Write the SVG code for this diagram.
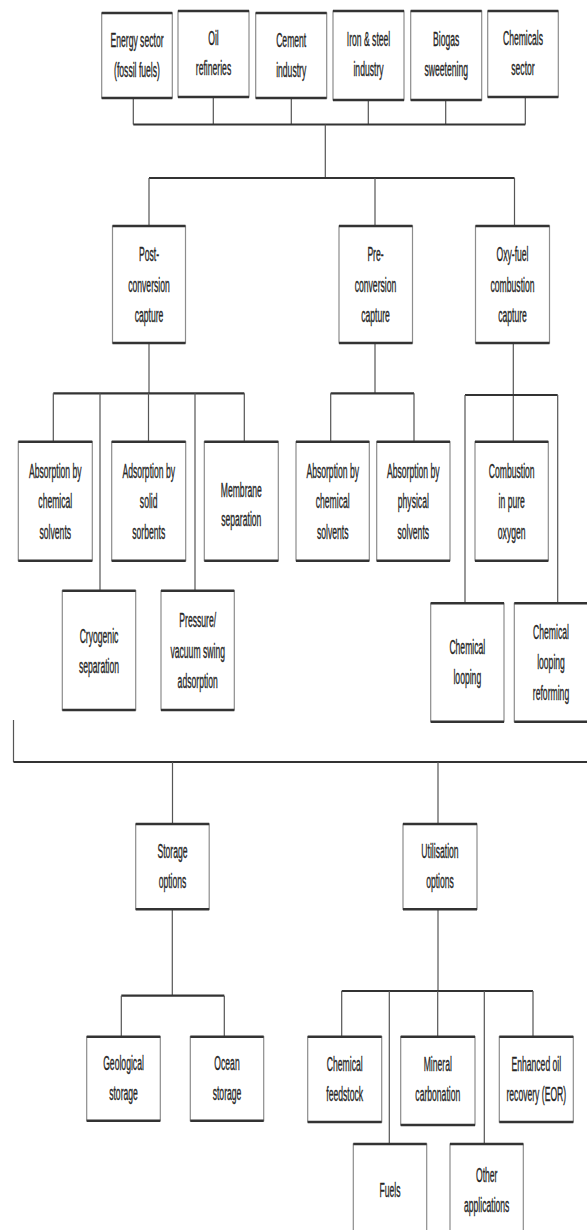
<svg xmlns="http://www.w3.org/2000/svg" width="587" height="1230" viewBox="0 0 587 1230">
<style>
.bg{fill:#ffffff}
.b{fill:#ffffff;stroke:#8c8c8c;stroke-width:1.2}
.tb{fill:none;stroke:#333333;stroke-width:2.6}
.h{fill:none;stroke:#333333;stroke-width:2.2}
.v{fill:none;stroke:#555555;stroke-width:1.2}
.t{font-family:"Liberation Sans",Arial,sans-serif;font-size:21px;fill:#262626;stroke:#262626;stroke-width:0.4;text-anchor:middle}
</style>
<rect class="bg" x="0" y="0" width="587" height="1230"/>

<g id="connectors">
  <path class="v" d="M133.3 98V124.5M213.3 97V124.5M291.3 98V124.5M368.3 100V124.5M445.7 100V124.5M525.3 97V124.5"/>
  <path class="h" d="M133.3 124.5H525.3"/>
  <path class="v" d="M325.3 124.5V178"/>
  <path class="h" d="M149 178H514.5"/>
  <path class="v" d="M149 178V226M375 178V226M514.5 178V226"/>
  <path class="v" d="M149 343V393.3"/>
  <path class="h" d="M53.3 393.3H244.3"/>
  <path class="v" d="M53.3 393.3V441.7M100 393.3V590.7M148.5 393.3V441.7M195 393.3V590.7M244.3 393.3V441.7"/>
  <path class="v" d="M375 343V393.3"/>
  <path class="h" d="M330.7 393.3H414"/>
  <path class="v" d="M330.7 393.3V441.7M414 393.3V441.7"/>
  <path class="v" d="M513.3 343V441.7"/>
  <path class="h" d="M465 395H557.7"/>
  <path class="v" d="M465 395V603.3M557.7 395V603.3"/>
  <path class="v" d="M13.5 720V762"/>
  <path class="h" d="M13.5 762H587"/>
  <path class="v" d="M172.5 762V824M438 762V824"/>
  <path class="v" d="M172.3 909.3V995.7"/>
  <path class="h" d="M121.3 995.7H224.3"/>
  <path class="v" d="M121.3 995.7V1036.7M224.3 995.7V1036.7"/>
  <path class="v" d="M438 909.3V991"/>
  <path class="h" d="M341.7 991H533"/>
  <path class="v" d="M341.7 991V1036.7M389.3 991V1144M437.7 991V1036.7M484.3 991V1144M533 991V1036.7"/>
</g>

<g id="n-energy">
  <rect class="b" x="101.7" y="13" width="70.6" height="85"/>
  <path class="tb" d="M101.7 13H172.3M101.7 98H172.3"/>
  <text class="t" transform="translate(137,0) scale(0.41,1)"><tspan x="0" y="47">Energy sector</tspan><tspan x="0" y="77">(fossil fuels)</tspan></text>
</g>
<g id="n-oil">
  <rect class="b" x="178" y="11" width="71" height="86"/>
  <path class="tb" d="M178 11H249M178 97H249"/>
  <text class="t" transform="translate(213.5,0) scale(0.41,1)"><tspan x="0" y="45.5">Oil</tspan><tspan x="0" y="75.5">refineries</tspan></text>
</g>
<g id="n-cement">
  <rect class="b" x="255.7" y="13" width="71" height="85"/>
  <path class="tb" d="M255.7 13H326.7M255.7 98H326.7"/>
  <text class="t" transform="translate(291.2,0) scale(0.41,1)"><tspan x="0" y="47">Cement</tspan><tspan x="0" y="77">industry</tspan></text>
</g>
<g id="n-iron">
  <rect class="b" x="333" y="11" width="71" height="89"/>
  <path class="tb" d="M333 11H404M333 100H404"/>
  <text class="t" transform="translate(368.5,0) scale(0.41,1)"><tspan x="0" y="46.5">Iron &amp; steel</tspan><tspan x="0" y="76.5">industry</tspan></text>
</g>
<g id="n-biogas">
  <rect class="b" x="410.7" y="11" width="71" height="89"/>
  <path class="tb" d="M410.7 11H481.7M410.7 100H481.7"/>
  <text class="t" transform="translate(446.2,0) scale(0.41,1)"><tspan x="0" y="46.5">Biogas</tspan><tspan x="0" y="76.5">sweetening</tspan></text>
</g>
<g id="n-chemicals">
  <rect class="b" x="487.7" y="11" width="70.6" height="86"/>
  <path class="tb" d="M487.7 11H558.3M487.7 97H558.3"/>
  <text class="t" transform="translate(523,0) scale(0.41,1)"><tspan x="0" y="45.5">Chemicals</tspan><tspan x="0" y="75.5">sector</tspan></text>
</g>

<g id="n-post">
  <rect class="b" x="112.5" y="226" width="73" height="117"/>
  <path class="tb" d="M112.5 226H185.5M112.5 343H185.5"/>
  <text class="t" transform="translate(149,0) scale(0.41,1)"><tspan x="0" y="261">Post-</tspan><tspan x="0" y="292">conversion</tspan><tspan x="0" y="322">capture</tspan></text>
</g>
<g id="n-pre">
  <rect class="b" x="339" y="226" width="73.5" height="117"/>
  <path class="tb" d="M339 226H412.5M339 343H412.5"/>
  <text class="t" transform="translate(375.5,0) scale(0.41,1)"><tspan x="0" y="261">Pre-</tspan><tspan x="0" y="292">conversion</tspan><tspan x="0" y="322">capture</tspan></text>
</g>
<g id="n-oxy">
  <rect class="b" x="475.5" y="226" width="74" height="117"/>
  <path class="tb" d="M475.5 226H549.5M475.5 343H549.5"/>
  <text class="t" transform="translate(512.5,0) scale(0.41,1)"><tspan x="0" y="261">Oxy-fuel</tspan><tspan x="0" y="292">combustion</tspan><tspan x="0" y="322">capture</tspan></text>
</g>

<g id="n-post-abs">
  <rect class="b" x="18.3" y="441.7" width="74" height="119"/>
  <path class="tb" d="M18.3 441.7H92.3M18.3 560.7H92.3"/>
  <text class="t" transform="translate(55.3,0) scale(0.41,1)"><tspan x="0" y="478">Absorption by</tspan><tspan x="0" y="508.5">chemical</tspan><tspan x="0" y="539">solvents</tspan></text>
</g>
<g id="n-post-ads">
  <rect class="b" x="111.7" y="441.7" width="74" height="119"/>
  <path class="tb" d="M111.7 441.7H185.7M111.7 560.7H185.7"/>
  <text class="t" transform="translate(148.7,0) scale(0.41,1)"><tspan x="0" y="478">Adsorption by</tspan><tspan x="0" y="508.5">solid</tspan><tspan x="0" y="539">sorbents</tspan></text>
</g>
<g id="n-post-mem">
  <rect class="b" x="204.3" y="441.7" width="74" height="119"/>
  <path class="tb" d="M204.3 441.7H278.3M204.3 560.7H278.3"/>
  <text class="t" transform="translate(241.3,0) scale(0.41,1)"><tspan x="0" y="497">Membrane</tspan><tspan x="0" y="526">separation</tspan></text>
</g>
<g id="n-post-cryo">
  <rect class="b" x="62.3" y="590.7" width="73.4" height="119.3"/>
  <path class="tb" d="M62.3 590.7H135.7M62.3 710H135.7"/>
  <text class="t" transform="translate(99,0) scale(0.41,1)"><tspan x="0" y="643">Cryogenic</tspan><tspan x="0" y="673">separation</tspan></text>
</g>
<g id="n-post-psa">
  <rect class="b" x="161" y="590.7" width="73.3" height="119.3"/>
  <path class="tb" d="M161 590.7H234.3M161 710H234.3"/>
  <text class="t" transform="translate(197.7,0) scale(0.41,1)"><tspan x="0" y="627.5">Pressure/</tspan><tspan x="0" y="658">vacuum swing</tspan><tspan x="0" y="688.5">adsorption</tspan></text>
</g>

<g id="n-pre-chem">
  <rect class="b" x="296" y="441.7" width="73.3" height="119"/>
  <path class="tb" d="M296 441.7H369.3M296 560.7H369.3"/>
  <text class="t" transform="translate(332.7,0) scale(0.41,1)"><tspan x="0" y="478">Absorption by</tspan><tspan x="0" y="508.5">chemical</tspan><tspan x="0" y="539">solvents</tspan></text>
</g>
<g id="n-pre-phys">
  <rect class="b" x="376.7" y="441.7" width="73.3" height="119"/>
  <path class="tb" d="M376.7 441.7H450M376.7 560.7H450"/>
  <text class="t" transform="translate(413.3,0) scale(0.41,1)"><tspan x="0" y="478">Absorption by</tspan><tspan x="0" y="508.5">physical</tspan><tspan x="0" y="539">solvents</tspan></text>
</g>

<g id="n-oxy-comb">
  <rect class="b" x="475" y="441.7" width="73.3" height="119"/>
  <path class="tb" d="M475 441.7H548.3M475 560.7H548.3"/>
  <text class="t" transform="translate(511.7,0) scale(0.41,1)"><tspan x="0" y="478">Combustion</tspan><tspan x="0" y="508.5">in pure</tspan><tspan x="0" y="539">oxygen</tspan></text>
</g>
<g id="n-oxy-cl">
  <rect class="b" x="430.7" y="603.3" width="73.3" height="118.4"/>
  <path class="tb" d="M430.7 603.3H504M430.7 721.7H504"/>
  <text class="t" transform="translate(467.3,0) scale(0.41,1)"><tspan x="0" y="654">Chemical</tspan><tspan x="0" y="684">looping</tspan></text>
</g>
<g id="n-oxy-clr">
  <rect class="b" x="514.3" y="603.3" width="74" height="118.4"/>
  <path class="tb" d="M514.3 603.3H588.3M514.3 721.7H588.3"/>
  <text class="t" transform="translate(551,0) scale(0.41,1)"><tspan x="0" y="639">Chemical</tspan><tspan x="0" y="669.5">looping</tspan><tspan x="0" y="700">reforming</tspan></text>
</g>

<g id="n-storage">
  <rect class="b" x="135.7" y="824" width="73.5" height="85.3"/>
  <path class="tb" d="M135.7 824H209.2M135.7 909.3H209.2"/>
  <text class="t" transform="translate(172.5,0) scale(0.41,1)"><tspan x="0" y="858">Storage</tspan><tspan x="0" y="888">options</tspan></text>
</g>
<g id="n-util">
  <rect class="b" x="403" y="824" width="74" height="85.3"/>
  <path class="tb" d="M403 824H477M403 909.3H477"/>
  <text class="t" transform="translate(440,0) scale(0.41,1)"><tspan x="0" y="858">Utilisation</tspan><tspan x="0" y="888">options</tspan></text>
</g>

<g id="n-geo">
  <rect class="b" x="86.7" y="1036.7" width="73.6" height="84"/>
  <path class="tb" d="M86.7 1036.7H160.3M86.7 1120.7H160.3"/>
  <text class="t" transform="translate(123.5,0) scale(0.41,1)"><tspan x="0" y="1070.5">Geological</tspan><tspan x="0" y="1100.5">storage</tspan></text>
</g>
<g id="n-ocean">
  <rect class="b" x="190.3" y="1036.7" width="73.4" height="84"/>
  <path class="tb" d="M190.3 1036.7H263.7M190.3 1120.7H263.7"/>
  <text class="t" transform="translate(227,0) scale(0.41,1)"><tspan x="0" y="1070.5">Ocean</tspan><tspan x="0" y="1100.5">storage</tspan></text>
</g>

<g id="n-feed">
  <rect class="b" x="307.7" y="1036.7" width="74" height="85.3"/>
  <path class="tb" d="M307.7 1036.7H381.7M307.7 1122H381.7"/>
  <text class="t" transform="translate(344.7,0) scale(0.41,1)"><tspan x="0" y="1071">Chemical</tspan><tspan x="0" y="1101">feedstock</tspan></text>
</g>
<g id="n-mineral">
  <rect class="b" x="400.7" y="1036.7" width="74.3" height="88.3"/>
  <path class="tb" d="M400.7 1036.7H475M400.7 1125H475"/>
  <text class="t" transform="translate(437.8,0) scale(0.41,1)"><tspan x="0" y="1071">Mineral</tspan><tspan x="0" y="1101">carbonation</tspan></text>
</g>
<g id="n-eor">
  <rect class="b" x="499.3" y="1036.7" width="74" height="85.3"/>
  <path class="tb" d="M499.3 1036.7H573.3M499.3 1122H573.3"/>
  <text class="t" transform="translate(536.3,0) scale(0.41,1)"><tspan x="0" y="1071">Enhanced oil</tspan><tspan x="0" y="1101">recovery (EOR)</tspan></text>
</g>
<g id="n-fuels">
  <rect class="b" x="353.3" y="1144" width="73.4" height="92"/>
  <path class="tb" d="M353.3 1144H426.7"/>
  <text class="t" transform="translate(390,0) scale(0.41,1)"><tspan x="0" y="1197">Fuels</tspan></text>
</g>
<g id="n-other">
  <rect class="b" x="450" y="1144" width="73.3" height="92"/>
  <path class="tb" d="M450 1144H523.3"/>
  <text class="t" transform="translate(486.7,0) scale(0.41,1)"><tspan x="0" y="1182">Other</tspan><tspan x="0" y="1212">applications</tspan></text>
</g>
</svg>
